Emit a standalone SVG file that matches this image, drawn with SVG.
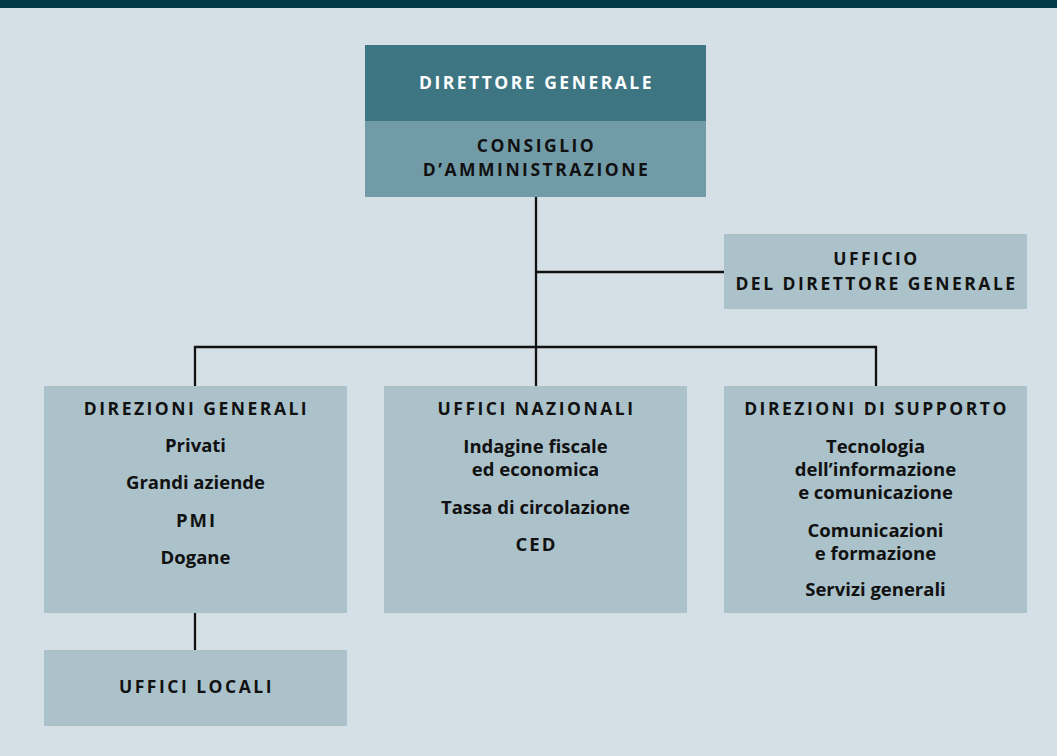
<svg xmlns="http://www.w3.org/2000/svg" width="1057" height="756" viewBox="0 0 1057 756">
<style>
.bg{fill:#d4e0e5}
.box{fill:#abc2ca}
.t{font-family:"Open Sans","DejaVu Sans",sans-serif;font-weight:700;fill:#111;text-anchor:middle}
.h{font-size:17.5px;letter-spacing:2.5px}
.b{font-size:18.5px}
.w{fill:#fff}
.ln{stroke:#111;stroke-width:2.3;fill:none}
</style>
<rect class="bg" x="0" y="0" width="1057" height="756"/>
<rect x="0" y="0" width="1057" height="8" fill="#023a4a"/>
<g id="connectors">
<line class="ln" x1="536" y1="197" x2="536" y2="386"/>
<line class="ln" x1="536" y1="272" x2="724" y2="272"/>
<polyline class="ln" points="195,386 195,347 876,347 876,386"/>
<line class="ln" x1="195" y1="613" x2="195" y2="650"/>
</g>
<g id="direttore">
<rect x="365" y="45" width="341" height="76" fill="#3d7583"/>
<text class="t h w" x="536.5" y="89">DIRETTORE GENERALE</text>
</g>
<g id="consiglio">
<rect x="365" y="121" width="341" height="76" fill="#729ba8"/>
<text class="t h" x="536.5" y="152">CONSIGLIO</text>
<text class="t h" x="536.5" y="176">D’AMMINISTRAZIONE</text>
</g>
<g id="ufficio-dg">
<rect class="box" x="724" y="234" width="303" height="75"/>
<text class="t h" x="876.5" y="265">UFFICIO</text>
<text class="t h" x="876.5" y="290">DEL DIRETTORE GENERALE</text>
</g>
<g id="direzioni-generali">
<rect class="box" x="44" y="386" width="303" height="227"/>
<text class="t h" x="196.5" y="415">DIREZIONI GENERALI</text>
<text class="t b" x="195.5" y="452">Privati</text>
<text class="t b" x="195.5" y="489">Grandi aziende</text>
<text class="t b" x="196.5" y="527" letter-spacing="2">PMI</text>
<text class="t b" x="195.5" y="564">Dogane</text>
</g>
<g id="uffici-nazionali">
<rect class="box" x="384" y="386" width="303" height="227"/>
<text class="t h" x="536.5" y="415">UFFICI NAZIONALI</text>
<text class="t b" x="535.5" y="453">Indagine fiscale</text>
<text class="t b" x="535.5" y="476">ed economica</text>
<text class="t b" x="535.5" y="514">Tassa di circolazione</text>
<text class="t b" x="536.5" y="551" letter-spacing="2">CED</text>
</g>
<g id="direzioni-supporto">
<rect class="box" x="724" y="386" width="303" height="227"/>
<text class="t h" x="876.5" y="415">DIREZIONI DI SUPPORTO</text>
<text class="t b" x="875.5" y="453">Tecnologia</text>
<text class="t b" x="875.5" y="476">dell’informazione</text>
<text class="t b" x="875.5" y="499">e comunicazione</text>
<text class="t b" x="875.5" y="537">Comunicazioni</text>
<text class="t b" x="875.5" y="560">e formazione</text>
<text class="t b" x="875.5" y="596">Servizi generali</text>
</g>
<g id="uffici-locali">
<rect class="box" x="44" y="650" width="303" height="76"/>
<text class="t h" x="196.5" y="693">UFFICI LOCALI</text>
</g>
</svg>
